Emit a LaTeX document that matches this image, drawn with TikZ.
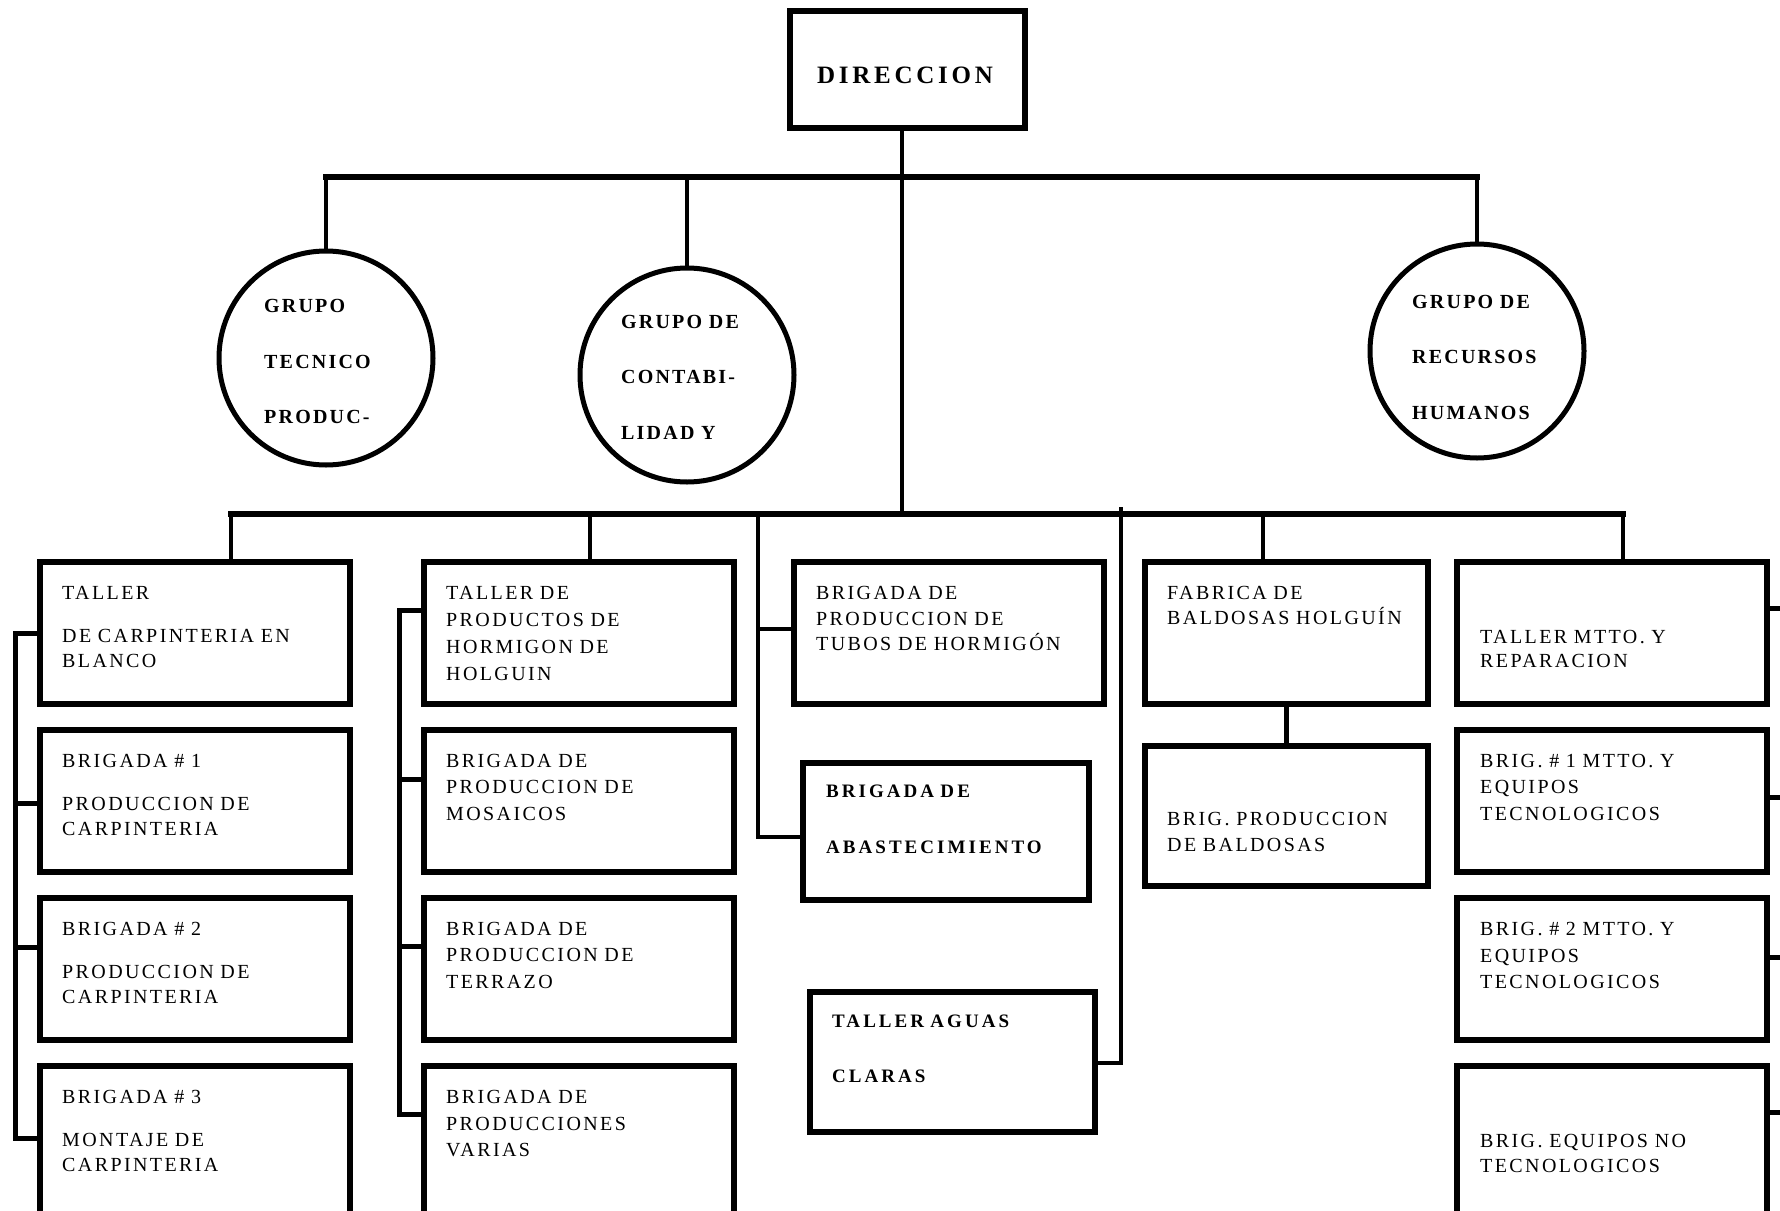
\documentclass[tikz,border=0pt]{standalone}
\usepackage{fontspec}
\setmainfont{Liberation Serif}
\newfontfamily\spc[LetterSpace=12]{Liberation Serif}
\newfontfamily\spcb[LetterSpace=16]{Liberation Serif}
\newfontfamily\spcg[LetterSpace=11]{Liberation Serif}
\newfontfamily\spcd[LetterSpace=15]{Liberation Serif}
\usepackage{tikz}

\tikzset{
  box/.style={draw, line width=6, rectangle, anchor=north west, inner sep=0, outer sep=0},
  grp/.style={draw, line width=5, circle, minimum size=214, inner sep=0, outer sep=0},
  txt/.style={anchor=base west, inner sep=0, text width=300, align=left, font=\spc\fontsize{20}{#1}\selectfont},
  txt/.default=26,
  btxt/.style={anchor=base west, inner sep=0, text width=300, align=left, font=\spcb\bfseries\fontsize{19}{#1}\selectfont},
  gtxt/.style={anchor=base west, inner sep=0, text width=200, align=left, font=\spcg\bfseries\fontsize{20}{55.5}\selectfont},
  bus/.style={line width=5.5, line cap=rect},
  link/.style={line width=4.5, line cap=rect},
  stub/.style={line width=5, line cap=rect},
}

\begin{document}
\begin{tikzpicture}[x=1pt,y=-1pt]
\fill[white] (0,0) rectangle (1780,1210);
\useasboundingbox (0,0) rectangle (1780,1210);

\node[box, minimum width=235, minimum height=117] (dir) at (789.5,10.5) {};
\node[anchor=base, inner sep=0, font=\spcd\bfseries\fontsize{25}{30}\selectfont] (dirt) at (905,83.3) {DIRECCION};

\node[grp] (tec) at (326,358) {};
\node[grp] (cont) at (687,375) {};
\node[grp] (rrhh) at (1477,351) {};
\node[gtxt] (tect) at (264,312.7) {GRUPO\\TECNICO\\PRODUC-};
\node[gtxt] (contt) at (621,328) {GRUPO DE\\CONTABI-\\LIDAD Y};
\node[gtxt] (rrhht) at (1412,308) {GRUPO DE\\RECURSOS\\HUMANOS};

\foreach \n/\x in {1/40, 2/424, 5/1456.5} {
  \foreach \r/\y in {a/562, b/730, c/898}
    \node[box, minimum width=310, minimum height=142] (c\n\r) at (\x,\y) {};
  \node[box, minimum width=310, minimum height=152] (c\n d) at (\x,1066) {};
}
\node[box, minimum width=310.5, minimum height=142] (tubos) at (793.5,562) {};
\node[box, minimum width=286.5, minimum height=137] (abast) at (802.5,763) {};
\node[box, minimum width=285, minimum height=140] (aguas) at (809.5,991.5) {};
\node[box, minimum width=283.5, minimum height=142] (fab) at (1144.5,562) {};
\node[box, minimum width=283.5, minimum height=139.5] (bprod) at (1144.5,746) {};

\node[txt=25] (c1at) at (62,599) {TALLER\\[18pt]DE CARPINTERIA EN\\BLANCO};
\node[txt=25] (c1bt) at (62,767) {BRIGADA \# 1\\[18pt]PRODUCCION DE\\CARPINTERIA};
\node[txt=25] (c1ct) at (62,935) {BRIGADA \# 2\\[18pt]PRODUCCION DE\\CARPINTERIA};
\node[txt=25] (c1dt) at (62,1103) {BRIGADA \# 3\\[18pt]MONTAJE DE\\CARPINTERIA};

\node[txt=27] (c2at) at (446,599) {TALLER DE\\PRODUCTOS DE\\HORMIGON DE\\HOLGUIN};
\node[txt=26.5] (c2bt) at (446,767) {BRIGADA DE\\PRODUCCION DE\\MOSAICOS};
\node[txt=26.5] (c2ct) at (446,935) {BRIGADA DE\\PRODUCCION DE\\TERRAZO};
\node[txt=26.5] (c2dt) at (446,1103.6) {BRIGADA DE\\PRODUCCIONES\\VARIAS};

\node[txt=25.6] (tubost) at (816,599.6) {BRIGADA DE\\PRODUCCION DE\\TUBOS DE HORMIGÓN};
\node[btxt=56] (abastt) at (826,797) {BRIGADA DE\\ABASTECIMIENTO};
\node[btxt=55] (aguast) at (832,1027) {TALLER AGUAS\\CLARAS};

\node[txt=25] (fabt) at (1167,599.6) {FABRICA DE\\BALDOSAS HOLGUÍN};
\node[txt=26] (bprodt) at (1167,825) {BRIG. PRODUCCION\\DE BALDOSAS};

\node[txt=24] (c5at) at (1480,643) {TALLER MTTO. Y\\REPARACION};
\node[txt=26.5] (c5bt) at (1480,767) {BRIG. \# 1 MTTO. Y\\EQUIPOS\\TECNOLOGICOS};
\node[txt=26.5] (c5ct) at (1480,935.6) {BRIG. \# 2 MTTO. Y\\EQUIPOS\\TECNOLOGICOS};
\node[txt=25] (c5dt) at (1480,1147.5) {BRIG. EQUIPOS NO\\TECNOLOGICOS};

\coordinate (topbus) at (902,177);
\coordinate (lowbus) at (902,514);
\draw[line width=3.5, line cap=rect] (dir.south -| topbus) -- (lowbus);
\draw[bus] (tec.north |- topbus) -- (rrhh.north |- topbus);
\draw[link] (tec.north |- topbus) -- (tec.north);
\draw[link] (cont.north |- topbus) -- (cont.north);
\draw[link] (rrhh.north |- topbus) -- (rrhh.north);

\coordinate (d1) at (231,514);
\coordinate (d2) at (590,514);
\coordinate (d3) at (758,514);
\coordinate (d4) at (1121,509);
\coordinate (d5) at (1263,514);
\coordinate (d6) at (1623,514);
\draw[bus] (d1) -- (d6);
\draw[link] (d1) -- (d1 |- c1a.north);
\draw[link] (d2) -- (d2 |- c2a.north);
\draw[link] (d5) -- (d5 |- fab.north);
\draw[link] (d6) -- (d6 |- c5a.north);
\draw[link] (d3) -- (d3 |- 0,837) -- (abast.west |- 0,837);
\draw[link] (d3 |- 0,629) -- (tubos.west |- 0,629);
\draw[link] (d4) -- (d4 |- 0,1063) -- (aguas.east |- 0,1063);
\draw[link] (fab.south) -- (bprod.north);

\coordinate (lb1) at (15,633);
\coordinate (lb2) at (15,1138);
\draw[stub] (lb1) -- (lb2);
\foreach \r/\y in {a/633, b/803, c/947, d/1138}
  \draw[stub] (lb1 |- 0,\y) -- (c1\r.west |- 0,\y);

\coordinate (lb3) at (399,610);
\coordinate (lb4) at (399,1114);
\draw[stub] (lb3) -- (lb4);
\foreach \r/\y in {a/610, b/779, c/946, d/1114}
  \draw[stub] (lb3 |- 0,\y) -- (c2\r.west |- 0,\y);

\coordinate (rb1) at (1790,608);
\coordinate (rb2) at (1790,1112);
\draw[stub] (rb1) -- (rb2);
\foreach \r/\y in {a/608, b/797, c/957, d/1112}
  \draw[stub] (c5\r.east |- 0,\y) -- (rb1 |- 0,\y);
\end{tikzpicture}
\end{document}
